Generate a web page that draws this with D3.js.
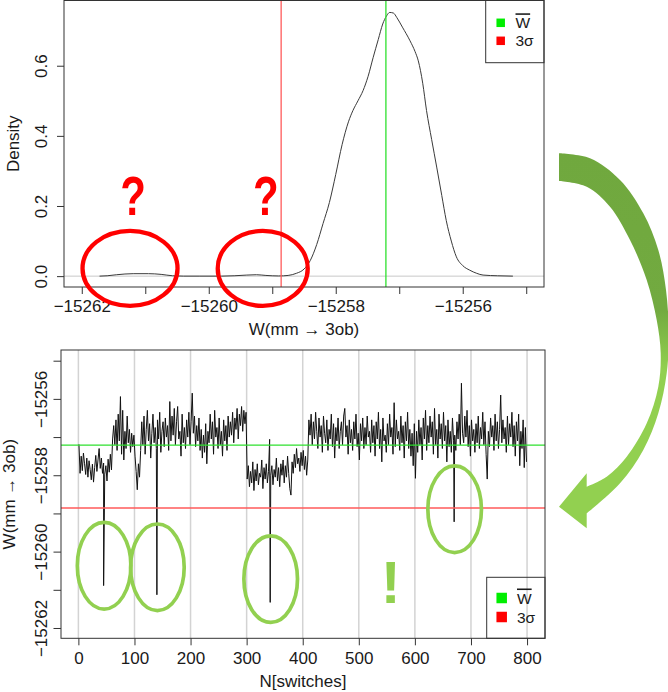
<!DOCTYPE html>
<html>
<head>
<meta charset="utf-8">
<script src="https://cdn.jsdelivr.net/npm/d3@7"></script>
<style>
  body { margin: 0; background: #fff; }
  text { font-family: "Liberation Sans", Arial, sans-serif; fill: #1a1a1a; }
</style>
</head>
<body>
<div id="chart"></div>
<script>
// ---- data: density of W (upper panel)
const densityW = [-15261.72, -15261.60, -15261.45, -15261.19, -15260.95, -15260.75, -15260.57, -15260.40,
  -15260.14, -15259.80, -15259.60, -15259.40, -15259.25, -15259.10, -15258.90, -15258.75, -15258.62,
  -15258.50, -15258.40, -15258.30, -15258.20, -15258.10, -15258.00, -15257.90, -15257.80, -15257.73,
  -15257.65, -15257.57, -15257.49, -15257.41, -15257.33, -15257.26, -15257.20, -15257.15, -15257.09,
  -15257.04, -15256.95, -15256.83, -15256.75, -15256.70, -15256.63, -15256.57, -15256.49, -15256.41,
  -15256.33, -15256.26, -15256.18, -15256.10, -15256.00, -15255.89, -15255.78, -15255.68, -15255.45, -15255.21];
const densityD = [0, 0.001, 0.004, 0.007, 0.007, 0.005, 0.001, 0,
  0, 0, 0.001, 0.003, 0.004, 0.002, 0.0005, 0.002, 0.008,
  0.020, 0.045, 0.090, 0.150, 0.210, 0.290, 0.375, 0.440, 0.472,
  0.500, 0.529, 0.570, 0.624, 0.675, 0.719, 0.742, 0.752, 0.750,
  0.738, 0.710, 0.671, 0.640, 0.614, 0.550, 0.472, 0.390, 0.311,
  0.230, 0.159, 0.100, 0.055, 0.030, 0.017, 0.008, 0.003, 0.001, 0];

// ---- data: W per switch (lower panel), read at every second switch (1, 3, 5, ... 799)
const seriesW = [
  -15257.19, -15257.95, -15257.50, -15257.88, -15257.42, -15257.70, -15257.98, -15257.55, -15258.05, -15257.62,
  -15257.85, -15258.12, -15257.71, -15258.18, -15257.80, -15257.48, -15257.90, -15257.60, -15257.30, -15257.82,
  -15257.55, -15257.95, -15257.68, -15257.97, -15257.75, -15258.15, -15257.58, -15257.92, -15257.45, -15257.86,
  -15257.05, -15256.70, -15257.20, -15256.55, -15257.35, -15256.40, -15257.10, -15255.94, -15257.45, -15256.30,
  -15257.60, -15256.85, -15257.30, -15256.45, -15257.15, -15256.80, -15257.40, -15256.90, -15257.25, -15256.95,
  -15257.50, -15257.90, -15258.38, -15257.70, -15258.05, -15257.35,
  -15256.60, -15257.20, -15256.45, -15257.45, -15256.80, -15256.30, -15257.10, -15256.65, -15257.55, -15256.90,
  -15256.40, -15257.15, -15256.75, -15257.30, -15256.55, -15257.05, -15256.35, -15257.40, -15256.85, -15256.60,
  -15257.25, -15256.50, -15257.00, -15256.70, -15257.35, -15256.07, -15257.10, -15256.45, -15256.95, -15256.25,
  -15257.20, -15256.60, -15256.20, -15257.05, -15256.85, -15257.50, -15256.40, -15257.15, -15256.75, -15257.30,
  -15256.55, -15257.00, -15256.35, -15257.20, -15256.60, -15255.85, -15256.90, -15256.45, -15257.25, -15256.70,
  -15257.10, -15256.50, -15257.35, -15256.80, -15257.55, -15256.95, -15257.40, -15256.65, -15257.70, -15256.85,
  -15257.15, -15256.40, -15257.05, -15256.60, -15257.45, -15256.30, -15257.00, -15256.75, -15257.30, -15256.50,
  -15257.20, -15256.85, -15257.50, -15256.55, -15257.10, -15256.70, -15257.35, -15256.45, -15257.00, -15256.60,
  -15256.95, -15256.35, -15257.15, -15256.50, -15256.80, -15256.25, -15257.05, -15256.40, -15256.70, -15256.20,
  -15256.85, -15256.30, -15256.65, -15256.35,
  -15258.10, -15257.75, -15258.30, -15257.90, -15258.20, -15257.65, -15258.40, -15257.85, -15258.15, -15257.70,
  -15258.25, -15257.95, -15258.05, -15257.60, -15258.35, -15257.80, -15258.10, -15257.70, -15258.20, -15257.90,
  -15257.06,
  -15258.00, -15257.75, -15258.25, -15257.85, -15258.05, -15257.55, -15258.15, -15257.80, -15258.30,
  -15257.70, -15258.00, -15257.60, -15258.20, -15257.75, -15258.05, -15257.50, -15257.95, -15258.35, -15258.52,
  -15257.65, -15257.95, -15257.45, -15257.80, -15257.30, -15257.70, -15257.55, -15257.90, -15257.40, -15257.75,
  -15257.35, -15257.85, -15257.50, -15258.00, -15257.60,
  -15256.55, -15256.95, -15256.40, -15257.20, -15256.60, -15257.05, -15256.35, -15256.85, -15257.30, -15256.50,
  -15257.00, -15256.70, -15257.40, -15256.45, -15256.90, -15257.15, -15256.55, -15257.35, -15256.80, -15257.05,
  -15256.40, -15257.25, -15256.65, -15257.55, -15256.75, -15257.10, -15256.50, -15257.30, -15256.85, -15256.60,
  -15257.20, -15256.45, -15256.25, -15257.00, -15256.70, -15257.45, -15256.55, -15257.15, -15256.80, -15257.35,
  -15256.60, -15257.05, -15256.40, -15257.25, -15256.90, -15257.60, -15256.65, -15257.10, -15256.50, -15257.30,
  -15256.75, -15257.20, -15256.45, -15257.00, -15256.85, -15257.40, -15256.55, -15257.15, -15256.70, -15257.50,
  -15256.60, -15257.05, -15256.35, -15257.30, -15256.80, -15257.65, -15256.50, -15257.10, -15256.95, -15257.40,
  -15256.65, -15257.20, -15256.40, -15257.00, -15256.75, -15257.45, -15256.10, -15257.25, -15256.55, -15257.05,
  -15256.85, -15257.35, -15256.45, -15257.15, -15256.70, -15257.55, -15256.60, -15257.10, -15256.35, -15257.30,
  -15256.80, -15257.50, -15256.90, -15257.75, -15256.65, -15258.08, -15256.85, -15257.40, -15256.55, -15257.20,
  -15256.75, -15257.60, -15256.50, -15257.05, -15256.30, -15257.35, -15256.70, -15257.15, -15256.45, -15257.00,
  -15256.60, -15257.45, -15256.25, -15257.20, -15256.80, -15257.55, -15256.40, -15257.05, -15256.65, -15257.30,
  -15256.35, -15257.10, -15256.70, -15257.65, -15256.55, -15257.25, -15256.85, -15257.40, -15256.50, -15257.10,
  -15256.95, -15257.35, -15256.60, -15257.05, -15256.40, -15257.20, -15255.59, -15256.90, -15257.15, -15256.45,
  -15257.00, -15256.30, -15257.25, -15256.70, -15257.50, -15256.55, -15257.10, -15256.80, -15257.40, -15256.65,
  -15257.15, -15256.45, -15257.30, -15256.75, -15257.05, -15256.35, -15257.20, -15256.60, -15257.45, -15258.10,
  -15256.85, -15257.25, -15256.50, -15257.00, -15256.70, -15257.35, -15256.40, -15257.10, -15256.60, -15257.30,
  -15256.80, -15255.90, -15257.15, -15256.55, -15257.05, -15256.75, -15257.40, -15256.45, -15257.20, -15256.65,
  -15257.00, -15256.35, -15257.25, -15256.70, -15257.50, -15256.60, -15257.10, -15256.40, -15257.75, -15256.85,
  -15257.30, -15256.55, -15257.80, -15256.75, -15257.65
];
// single-switch outliers
const outlierN = [45, 140, 342, 670];
const outlierW = [-15260.89, -15261.13, -15261.33, -15259.22];

const meanW = -15257.21;
const sigma3W = -15258.86;

const wTicks = [-15262, -15261, -15260, -15259, -15258, -15257, -15256, -15255];
const densityTicks = [0, 0.2, 0.4, 0.6];
const switchTicks = [0, 100, 200, 300, 400, 500, 600, 700, 800];
const legendLabels = ["W", "3σ"];
const legendColors = ["#00ee00", "#ff0000"];

// annotation anchors (data units)
const questionW = [-15261.24, -15259.15];
const ringW = [-15260.37, -15260.41, -15260.72, -15258.89];

// ---- layout
const width = 668, height = 692;
const pTop = {left: 64, right: 544, top: 0.5, bottom: 287};
const pBot = {left: 61, right: 545, top: 350, bottom: 638.3};
const lineRed = "#ff5a5a", lineGreen = "#2ee02e";
const fontSize = 17;
// R style labels: true minus sign
const fmtW = d => d3.format("d")(d).replace("-", "\u2212");

const svg = d3.select("#chart").append("svg")
  .attr("width", width)
  .attr("height", height);
svg.append("rect").attr("width", width).attr("height", height).attr("fill", "#fff");

// ================= upper panel: density =================
const xTop = d3.scaleLinear().domain([-15262.28, -15254.72]).range([pTop.left, pTop.right]);
const yTop = d3.scaleLinear().domain([-0.031, 0.786]).range([pTop.bottom, pTop.top]);

// zero line
svg.append("line")
  .attr("x1", pTop.left).attr("x2", pTop.right)
  .attr("y1", yTop(0)).attr("y2", yTop(0))
  .attr("stroke", "#c8c8c8").attr("stroke-width", 1);

const densityLine = d3.line()
  .x((d, i) => xTop(densityW[i]))
  .y(d => yTop(d))
  .curve(d3.curveMonotoneX);

svg.append("path")
  .attr("d", densityLine(densityD))
  .attr("fill", "none")
  .attr("stroke", "#3a3a3a")
  .attr("stroke-width", 1);

// mean and 3 sigma verticals
svg.append("line")
  .attr("x1", xTop(sigma3W)).attr("x2", xTop(sigma3W))
  .attr("y1", pTop.top).attr("y2", pTop.bottom)
  .attr("stroke", lineRed).attr("stroke-width", 1.3);
svg.append("line")
  .attr("x1", xTop(meanW)).attr("x2", xTop(meanW))
  .attr("y1", pTop.top).attr("y2", pTop.bottom)
  .attr("stroke", lineGreen).attr("stroke-width", 1.3);

// box
svg.append("rect")
  .attr("x", pTop.left).attr("y", pTop.top)
  .attr("width", pTop.right - pTop.left).attr("height", pTop.bottom - pTop.top)
  .attr("fill", "none").attr("stroke", "#333").attr("stroke-width", 1);

// axes
const axTopX = svg.append("g")
  .attr("transform", `translate(0,${pTop.bottom})`)
  .call(d3.axisBottom(xTop).tickValues(wTicks)
    .tickFormat(d => d % 2 === 0 ? fmtW(d) : "")
    .tickSize(7).tickPadding(6));
const axTopY = svg.append("g")
  .attr("transform", `translate(${pTop.left},0)`)
  .call(d3.axisLeft(yTop).tickValues(densityTicks).tickFormat(d3.format(".1f")).tickSize(7));
axTopY.selectAll(".tick text")
  .attr("x", 0).attr("y", -17.3).attr("dy", 0)
  .attr("text-anchor", "middle")
  .attr("transform", "rotate(-90)");

svg.append("text")
  .attr("x", (pTop.left + pTop.right) / 2).attr("y", 335)
  .attr("text-anchor", "middle").attr("font-size", fontSize)
  .text("W(mm \u2192 3ob)");
svg.append("text")
  .attr("transform", `translate(19,${(pTop.top + pTop.bottom) / 2}) rotate(-90)`)
  .attr("text-anchor", "middle").attr("font-size", fontSize)
  .text("Density");

// ================= lower panel: W per switch =================
const xBot = d3.scaleLinear().domain([-31, 832]).range([pBot.left, pBot.right]);
const yBot = d3.scaleLinear().domain([-15262.27, -15254.72]).range([pBot.bottom, pBot.top]);

// vertical grid
svg.append("g").selectAll("line")
  .data(switchTicks)
  .join("line")
    .attr("x1", d => xBot(d)).attr("x2", d => xBot(d))
    .attr("y1", pBot.top).attr("y2", pBot.bottom)
    .attr("stroke", "#d3d3d3").attr("stroke-width", 1.5);

const seriesPts = seriesW.map((w, i) => ({n: 2 * i + 1, w: w}))
  .concat(outlierN.map((n, i) => ({n: n, w: outlierW[i]})))
  .sort((a, b) => a.n - b.n);

const seriesLine = d3.line()
  .x(d => xBot(d.n))
  .y(d => yBot(d.w));

svg.append("path")
  .attr("d", seriesLine(seriesPts))
  .attr("fill", "none")
  .attr("stroke", "#111")
  .attr("stroke-width", 1)
  .attr("stroke-linejoin", "round");

svg.append("line")
  .attr("x1", pBot.left).attr("x2", pBot.right)
  .attr("y1", yBot(meanW)).attr("y2", yBot(meanW))
  .attr("stroke", lineGreen).attr("stroke-width", 1.3);
svg.append("line")
  .attr("x1", pBot.left).attr("x2", pBot.right)
  .attr("y1", yBot(sigma3W)).attr("y2", yBot(sigma3W))
  .attr("stroke", lineRed).attr("stroke-width", 1.5);

svg.append("rect")
  .attr("x", pBot.left).attr("y", pBot.top)
  .attr("width", pBot.right - pBot.left).attr("height", pBot.bottom - pBot.top)
  .attr("fill", "none").attr("stroke", "#333").attr("stroke-width", 1);

const axBotX = svg.append("g")
  .attr("transform", `translate(0,${pBot.bottom})`)
  .call(d3.axisBottom(xBot).tickValues(switchTicks).tickFormat(d3.format("d"))
    .tickSize(7).tickPadding(7));
const axBotY = svg.append("g")
  .attr("transform", `translate(${pBot.left},0)`)
  .call(d3.axisLeft(yBot).tickValues(wTicks)
    .tickFormat(d => d % 2 === 0 ? fmtW(d) : "").tickSize(7.5));
axBotY.selectAll(".tick text")
  .attr("x", 0).attr("y", -14.3).attr("dy", 0)
  .attr("text-anchor", "middle")
  .attr("transform", "rotate(-90)");

[axTopX, axTopY, axBotX, axBotY].forEach(ax => {
  ax.attr("font-size", fontSize).attr("font-family", null);
  ax.select(".domain").remove();
  ax.selectAll(".tick line").attr("stroke", "#333");
  ax.selectAll(".tick text").attr("fill", "#1a1a1a");
});

svg.append("text")
  .attr("x", (pBot.left + pBot.right) / 2).attr("y", 686.5)
  .attr("text-anchor", "middle").attr("font-size", fontSize)
  .text("N[switches]");
svg.append("text")
  .attr("transform", `translate(14.5,${(pBot.top + pBot.bottom) / 2}) rotate(-90)`)
  .attr("text-anchor", "middle").attr("font-size", fontSize)
  .text("W(mm \u2192 3ob)");

// ---- legends (no fill, as in R)
function legend(x0, y0, x1, y1, sq, rowY, textX) {
  svg.append("rect")
    .attr("x", x0).attr("y", y0).attr("width", x1 - x0).attr("height", y1 - y0)
    .attr("fill", "none").attr("stroke", "#333").attr("stroke-width", 1);
  legendLabels.forEach((lab, i) => {
    svg.append("rect")
      .attr("x", x0 + 10 + (10 - sq) / 2).attr("y", rowY[i] - sq / 2)
      .attr("width", sq).attr("height", sq)
      .attr("fill", legendColors[i]);
    const t = svg.append("text")
      .attr("x", textX).attr("y", rowY[i] + 5.5)
      .attr("font-size", 15.5);
    if (i === 0) {
      t.append("tspan").style("text-decoration", "overline").text(lab);
    } else {
      t.text(lab);
    }
  });
}
legend(485.7, pTop.top, pTop.right, 62.7, 8.5, [22.8, 40.8], 515.5);
legend(486.7, 577.3, pBot.right, pBot.bottom, 10.5, [598, 617], 517);

// ---- annotations
// red rings and question marks on the density tails
const ringRx = [47.5, 45];
questionW.forEach((w, i) => {
  svg.append("ellipse")
    .attr("cx", xTop(w)).attr("cy", yTop(0.022))
    .attr("rx", ringRx[i]).attr("ry", 37.5)
    .attr("fill", "none").attr("stroke", "#ff0000").attr("stroke-width", 4.3);
  svg.append("text")
    .attr("transform", `translate(${xTop(w) + 3},215) scale(0.75,1)`)
    .attr("text-anchor", "middle")
    .attr("font-size", 56).attr("font-weight", "bold")
    .style("fill", "#ff0000")
    .text("?");
});

// green rings around the outliers
outlierN.forEach((n, i) => {
  svg.append("ellipse")
    .attr("cx", xBot(n) + 0.5).attr("cy", yBot(ringW[i]))
    .attr("rx", 26.8).attr("ry", 43.3)
    .attr("fill", "none").attr("stroke", "#92d050").attr("stroke-width", 3.7);
});
svg.append("text")
  .attr("x", xBot(557)).attr("y", 603)
  .attr("text-anchor", "middle")
  .attr("font-size", 60).attr("font-weight", "bold")
  .style("fill", "#92d050")
  .text("!");

// curved arrow linking the two panels
const defs = svg.append("defs");
const grad = defs.append("linearGradient")
  .attr("id", "arrowGrad")
  .attr("gradientUnits", "userSpaceOnUse")
  .attr("x1", 0).attr("x2", 0).attr("y1", 150).attr("y2", 530);
grad.append("stop").attr("offset", "0%").attr("stop-color", "#70a83e");
grad.append("stop").attr("offset", "42%").attr("stop-color", "#72aa40");
grad.append("stop").attr("offset", "58%").attr("stop-color", "#92d050");
grad.append("stop").attr("offset", "100%").attr("stop-color", "#92d050");

const outerEdge = [[559, 153.3], [590, 158.3], [620, 180], [643.3, 213.3], [658.3, 250], [666, 290],
  [668.7, 333.3], [666.7, 373.3], [658.3, 413.3], [643.3, 450], [620, 483.3], [586.7, 513.3]];
const innerEdge = [[586.7, 486.7], [606.7, 476.7], [626.7, 456.7], [646.7, 423.3], [658.3, 386.7],
  [660.7, 353.3], [656.7, 320], [646.7, 280], [630, 240], [610, 206.7], [586.7, 186.7], [559, 181]];
const head = [[586.7, 528.3], [559, 506.7], [586.7, 473.3]];

const edge = d3.line().curve(d3.curveCatmullRom);
const arrowPath = edge(outerEdge)
  + head.map(p => `L${p[0]},${p[1]}`).join("")
  + edge(innerEdge).replace(/^M/, "L") + "Z";

svg.append("path")
  .attr("d", arrowPath)
  .attr("fill", "url(#arrowGrad)");
</script>
</body>
</html>
